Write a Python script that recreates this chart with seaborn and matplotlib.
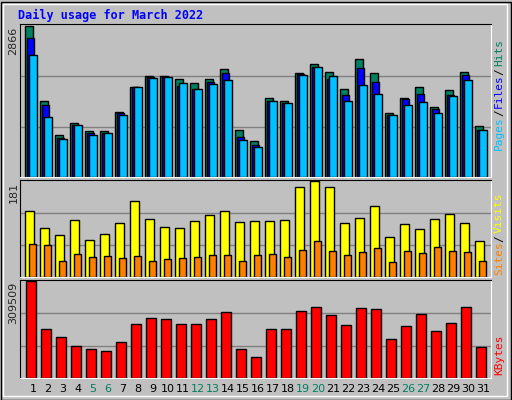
import matplotlib
matplotlib.use("Agg")
import matplotlib.pyplot as plt
import numpy as np
import pandas as pd
import seaborn as sns

days = list(range(1, 32))
weekend_days = [5, 6, 12, 13, 19, 20, 26, 27]

hits = [2866, 1440, 795, 1029, 873, 873, 1225, 1694, 1909, 1909, 1850, 1772, 1850, 2045,
        892, 677, 1498, 1440, 1967, 2143, 1987, 1674, 2240, 1967, 1205, 1498, 1694, 1323,
        1655, 1987, 964]
files = [2631, 1362, 736, 990, 834, 834, 1205, 1694, 1889, 1889, 1713, 1674, 1791, 1967,
         756, 599, 1440, 1401, 1948, 2084, 1850, 1557, 2065, 1791, 1166, 1479, 1577, 1284,
         1557, 1928, 886]
pages = [2299, 1127, 717, 990, 795, 834, 1166, 1694, 1870, 1889, 1772, 1674, 1752, 1830,
         697, 560, 1440, 1401, 1928, 2084, 1909, 1440, 1733, 1577, 1166, 1362, 1420, 1205,
         1537, 1830, 886]
visits = [124, 93, 79, 108, 69, 81, 102, 144, 110, 94, 93, 106, 116, 124, 104, 106, 106,
          108, 169, 181, 169, 102, 112, 134, 75, 100, 90, 110, 118, 102, 67]
sites = [63, 61, 31, 43, 37, 39, 35, 39, 31, 33, 35, 37, 41, 41, 31, 41, 43, 37, 51, 67,
         49, 41, 47, 55, 29, 49, 45, 57, 49, 47, 31]
kbytes = [309509, 156469, 129260, 102050, 91847, 85044, 115655, 173475, 190481, 187080,
          173475, 173475, 187080, 210888, 91847, 67883, 156469, 156469, 214289, 227894,
          200686, 170074, 224493, 221092, 125858, 166673, 204087, 149667, 176877, 227894,
          98649]

BG = "#c0c0c0"
GRID = "#808080"
MONO = "DejaVu Sans Mono"

sns.set_style("white")
plt.rcParams["font.family"] = [MONO]

W, H = 512, 400
fig = plt.figure(figsize=(W / 100, H / 100), dpi=100, facecolor=BG)
x = np.arange(31)


def add_panel(top, bottom):
    ax = fig.add_axes([20 / W, 1 - bottom / H, 471 / W, (bottom - top) / H])
    ax.set_facecolor(BG)
    ax.set_xlim(-0.45, 30.95)
    for s in ax.spines.values():
        s.set_color("black")
    ax.spines["bottom"].set_color("white")
    ax.spines["right"].set_color("white")
    ax.set_xticks([])
    return ax


def finish(ax, vmax, label):
    ax.set_ylim(0, vmax * 1.01)
    ax.set_yticks([vmax / 3, vmax * 2 / 3])
    ax.set_yticklabels([])
    ax.tick_params(left=False)
    ax.yaxis.grid(True, color=GRID, lw=1)
    ax.set_axisbelow(True)
    ax.text(-0.014, 0.98, label, transform=ax.transAxes, rotation=90,
            ha="center", va="top", fontsize=8, family="DejaVu Sans")


def side_label(parts, y_bottom):
    y = y_bottom
    for text, color in parts:
        fig.text(499 / W, 1 - y / H, text, rotation=90, color=color,
                 ha="center", va="bottom", fontsize=8)
        y -= 6.3 * len(text) + 2


# Hits / Files / Pages
ax1 = add_panel(24, 177)
ax1.bar(x - 0.1, hits, width=0.5, align="edge", color="#008060", edgecolor="black", lw=1)
ax1.bar(x + 0.02, files, width=0.48, align="edge", color="#0000ff", edgecolor="black", lw=1)
ax1.bar(x + 0.17, pages, width=0.48, align="edge", color="#00c0ff", edgecolor="black", lw=1)
finish(ax1, 2866, "2866")
side_label([("Pages", "#00c0ff"), ("/", "black"), ("Files", "#0000ff"),
            ("/", "black"), ("Hits", "#008060")], 150)

# Visits / Sites
ax2 = add_panel(180, 277)
ax2.bar(x - 0.1, visits, width=0.55, align="edge", color="#ffff00", edgecolor="black", lw=1)
ax2.bar(x + 0.15, sites, width=0.48, align="edge", color="#ff8000", edgecolor="black", lw=1)
finish(ax2, 181, "181")
side_label([("Sites", "#ff8000"), ("/", "black"), ("Visits", "#ffff00")], 275)

# KBytes
ax3 = add_panel(280, 378)
df = pd.DataFrame({"pos": x + 0.3, "kbytes": kbytes})
sns.barplot(data=df, x="pos", y="kbytes", native_scale=True, width=0.66,
            color="#ff0000", edgecolor="black", linewidth=1, saturation=1, ax=ax3)
ax3.set_xlim(-0.45, 30.95)
ax3.set_xlabel("")
ax3.set_ylabel("")
finish(ax3, 309509, "309509")
side_label([("KBytes", "#ff0000")], 375)

for d in days:
    fig.text((26.75 + (d - 1 + 0.42) * 15.0) / W, 1 - 389 / H, str(d),
             ha="center", va="center", fontsize=8, family="DejaVu Sans",
             color="#008060" if d in weekend_days else "black")

fig.text(18 / W, 1 - 15 / H, "Daily usage for March 2022", color="#0000ff",
         fontsize=8.5, weight="bold", ha="left", va="center")

# bevelled frame
fig.add_artist(plt.Rectangle((0.5 / W, 0.5 / H), 1 - 2 / W, 1 - 2 / H, fill=False,
                             ec="black", lw=1, transform=fig.transFigure))
fig.add_artist(plt.Rectangle((3 / W, 4 / H), 1 - 8 / W, 1 - 8 / H, fill=False,
                             ec="white", lw=1, transform=fig.transFigure))

fig.savefig("out.png", dpi=100, facecolor=BG)
